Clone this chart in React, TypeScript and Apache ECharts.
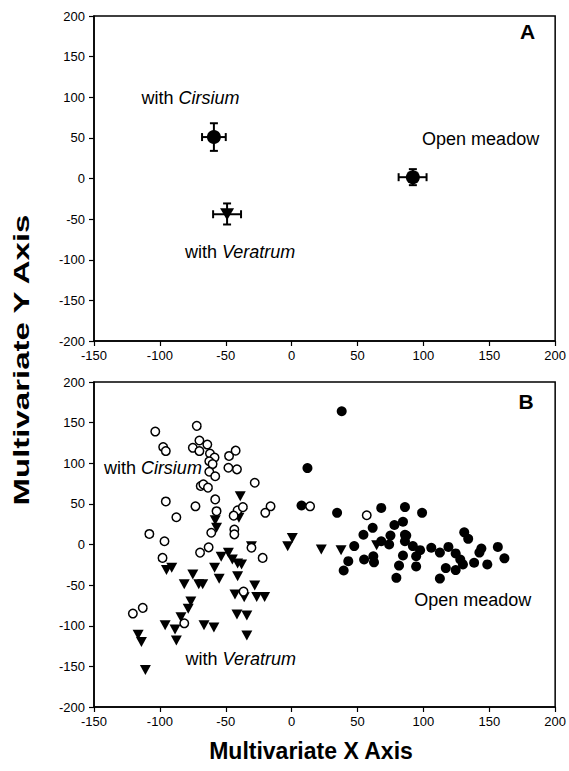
import React, { useEffect, useRef } from "react";
import * as echarts from "echarts";

// ---------- data ----------
const xTicks = [-150, 200, 50]; // min, max, interval
const yTicks = [-200, 200, 50];

// Panel A: group means [x, y, xLow, xHigh, yLow, yHigh]
const meanCirsium = [-59, 51, -68, -50, 34, 68];
const meanVeratrum = [-49, -44, -59.6, -38.4, -56.6, -30.7];
const meanMeadow = [92, 1.6, 81.2, 102.4, -8.2, 11.5];

// Panel B: individual plots
const meadowPoints = [
  [38, 164], [12, 94], [7.5, 48], [34.5, 39], [68, 45], [86, 46], [99, 39], [84.5, 28],
  [78, 24], [61.5, 20.5], [54.5, 12], [75, 11], [87, 11], [131, 15], [134, 7], [68, 4],
  [86, 4], [47.5, -2], [74, 0], [92, -2], [97.5, -7], [106, -4], [119, -3], [144, -5],
  [156.5, -3], [84.5, -13.5], [94.5, -14.5], [112.5, -10], [124.5, -11], [142.5, -10],
  [161.5, -17], [43, -20.5], [55, -18.5], [62.5, -22], [62, -14.5], [81.5, -26],
  [94.5, -27], [117, -29], [124.5, -31.5], [130, -24.5], [138.5, -22.5], [148.5, -24.5],
  [128, -18.5], [39.5, -32], [79.5, -41], [112.5, -42], [86, 12],
];
const cirsiumPoints = [
  [-103.5, 139], [-72, 146], [-97.5, 120], [-95.5, 115], [-70, 128], [-64, 123], [-75, 119],
  [-70, 115], [-62, 112], [-58.5, 107], [-62.5, 102.5], [-60, 99], [-62.5, 89.5], [-58, 84],
  [-47.5, 109], [-42.5, 115.5], [-48, 94.5], [-41.5, 92.5], [-69, 72], [-67, 74],
  [-63.5, 70], [-28, 76], [-95.5, 53], [-73, 47], [-58, 55.5], [-87.5, 33.5], [-57, 41],
  [-41, 42], [-37, 46], [-44, 35.5], [-16, 47], [-20, 39], [-108, 13], [-96.5, 4],
  [-61, 14.5], [-43.5, 18.5], [-43.5, 12.5], [-63, -3.5], [-69.5, -10], [-30.5, -4],
  [-22, -16.5], [-98, -16.5], [-36.5, -58], [-120.5, -85], [-113, -78], [-81.5, -97],
  [14, 47], [57, 36],
];
const veratrumPoints = [
  [-39, 59.5], [-58, 30], [-40, 33], [-57, 20.5], [0.5, 8], [-3, -2], [-30.5, -2],
  [-48, -10], [-45, -18.5], [-53.5, -15], [-41, -23.5], [-38, -24.5], [-95, -31.5],
  [-91, -28.5], [-58.5, -28.5], [-55, -42], [-75, -37], [-70.5, -49], [-67.5, -49],
  [-81.5, -49], [-41, -39], [-28, -50.5], [-43, -61.5], [-36, -65], [-26.5, -64.5],
  [-20.5, -64.5], [-76.5, -70], [-78.5, -79], [-41.5, -86], [-34, -87.5], [-84, -89.5],
  [-96, -99.5], [-88.5, -104.5], [-66.5, -99.5], [-59, -102], [-87.5, -118],
  [-116.5, -111], [-114, -120], [-34, -112], [-111, -154.5], [22.5, -6], [37.5, -7],
  [64.5, -1],
];

// Annotations: [x, y, text]
const labelsA = [
  [-114, 99, "with {i|Cirsium}"],
  [99, 49, "Open meadow"],
  [-81, -91, "with {i|Veratrum}"],
];
const labelsB = [
  [-142.5, 94.5, "with {i|Cirsium}"],
  [93, -67.7, "Open meadow"],
  [-80.5, -140.7, "with {i|Veratrum}"],
];
const panelLetters = [
  [179, 181, "A"],
  [178, 176, "B"],
];

const FONT = "'Liberation Sans', Arial, Helvetica, sans-serif";
const TRI = "path://M0,0 L10,0 L5,9 Z";

function axesFor(gridIndex: number) {
  const common = {
    gridIndex,
    type: "value" as const,
    axisLine: { show: true, onZero: false, lineStyle: { color: "#000", width: 1.5 } },
    axisTick: { show: true, inside: false, length: 5, lineStyle: { color: "#000", width: 1.2 } },
    splitLine: { show: false },
  };
  return {
    x: {
      ...common,
      min: xTicks[0],
      max: xTicks[1],
      interval: xTicks[2],
      axisLabel: { color: "#000", fontSize: 13, fontFamily: FONT, margin: 8, showMinLabel: true, showMaxLabel: true },
    },
    y: {
      ...common,
      min: yTicks[0],
      max: yTicks[1],
      interval: yTicks[2],
      axisLabel: { color: "#000", fontSize: 13, fontFamily: FONT, margin: 9, showMinLabel: true, showMaxLabel: true },
    },
  };
}

function labelSeries(items: any[], idx: number) {
  return {
    type: "scatter",
    xAxisIndex: idx,
    yAxisIndex: idx,
    symbolSize: 0,
    silent: true,
    z: 5,
    itemStyle: { opacity: 1 },
    data: items.map((d) => ({ value: [d[0], d[1]], name: d[2] })),
    label: {
      show: true,
      position: "right",
      distance: 0,
      color: "#000",
      fontSize: 18,
      fontFamily: FONT,
      formatter: (p: any) => p.name,
      rich: { i: { fontStyle: "italic", fontSize: 18, fontFamily: FONT, color: "#000" } },
    },
  };
}

function errorRender(params: any, api: any) {
  const x = api.value(0), y = api.value(1);
  const xl = api.coord([api.value(2), y]);
  const xh = api.coord([api.value(3), y]);
  const yl = api.coord([x, api.value(4)]);
  const yh = api.coord([x, api.value(5)]);
  const c = 4;
  const st = { stroke: "#000", lineWidth: 2 };
  return {
    type: "group",
    children: [
      { type: "line", shape: { x1: xl[0], y1: xl[1], x2: xh[0], y2: xh[1] }, style: st },
      { type: "line", shape: { x1: xl[0], y1: xl[1] - c, x2: xl[0], y2: xl[1] + c }, style: st },
      { type: "line", shape: { x1: xh[0], y1: xh[1] - c, x2: xh[0], y2: xh[1] + c }, style: st },
      { type: "line", shape: { x1: yl[0], y1: yl[1], x2: yh[0], y2: yh[1] }, style: st },
      { type: "line", shape: { x1: yl[0] - c, y1: yl[1], x2: yl[0] + c, y2: yl[1] }, style: st },
      { type: "line", shape: { x1: yh[0] - c, y1: yh[1], x2: yh[0] + c, y2: yh[1] }, style: st },
    ],
  };
}

export default function App() {
  const ref = useRef<HTMLDivElement>(null);
  useEffect(() => {
    document.body.style.margin = "0";
    const chart = echarts.init(ref.current!, undefined, { renderer: "svg" });
    const a = axesFor(0);
    const b = axesFor(1);
    const letterLabel = { show: true, position: "inside", formatter: (p: any) => p.name, color: "#000", fontSize: 21, fontWeight: "bold", fontFamily: FONT };
    chart.setOption({
      animation: false,
      backgroundColor: "#fff",
      grid: [
        { left: 94, right: 9, top: 16, height: 325, show: true, borderColor: "#000", borderWidth: 1.5, backgroundColor: "transparent" },
        { left: 94, right: 9, top: 382, height: 325, show: true, borderColor: "#000", borderWidth: 1.5, backgroundColor: "transparent" },
      ],
      xAxis: [a.x, b.x],
      yAxis: [a.y, b.y],
      series: [
        {
          type: "custom",
          xAxisIndex: 0,
          yAxisIndex: 0,
          renderItem: errorRender,
          data: [meanCirsium, meanVeratrum, meanMeadow],
          z: 2,
          silent: true,
        },
        {
          type: "scatter",
          xAxisIndex: 0,
          yAxisIndex: 0,
          symbol: "circle",
          symbolSize: 14,
          itemStyle: { color: "#000", opacity: 1 },
          data: [[meanCirsium[0], meanCirsium[1]], [meanMeadow[0], meanMeadow[1]]],
          z: 3,
        },
        {
          type: "scatter",
          xAxisIndex: 0,
          yAxisIndex: 0,
          symbol: TRI,
          symbolSize: [14, 12],
          itemStyle: { color: "#000", opacity: 1 },
          data: [[meanVeratrum[0], meanVeratrum[1]]],
          z: 3,
        },
        {
          type: "scatter",
          xAxisIndex: 1,
          yAxisIndex: 1,
          symbol: TRI,
          symbolSize: [11, 10],
          itemStyle: { color: "#000", opacity: 1 },
          data: veratrumPoints,
          z: 3,
        },
        {
          type: "scatter",
          xAxisIndex: 1,
          yAxisIndex: 1,
          symbol: "circle",
          symbolSize: 10,
          itemStyle: { color: "#000", opacity: 1 },
          data: meadowPoints,
          z: 3,
        },
        {
          type: "scatter",
          xAxisIndex: 1,
          yAxisIndex: 1,
          symbol: "circle",
          symbolSize: 8.5,
          itemStyle: { color: "#fff", borderColor: "#000", borderWidth: 1.5, opacity: 1 },
          data: cirsiumPoints,
          z: 4,
        },
        labelSeries(labelsA, 0),
        labelSeries(labelsB, 1),
        {
          type: "scatter",
          xAxisIndex: 0,
          yAxisIndex: 0,
          symbolSize: 0,
          silent: true,
          itemStyle: { opacity: 1 },
          data: [{ value: [panelLetters[0][0], panelLetters[0][1]], name: panelLetters[0][2] }],
          label: letterLabel,
        },
        {
          type: "scatter",
          xAxisIndex: 1,
          yAxisIndex: 1,
          symbolSize: 0,
          silent: true,
          itemStyle: { opacity: 1 },
          data: [{ value: [panelLetters[1][0], panelLetters[1][1]], name: panelLetters[1][2] }],
          label: letterLabel,
        },
      ],
      graphic: [
        {
          type: "text",
          x: 22,
          y: 360,
          rotation: Math.PI / 2,
          scaleX: 1.5,
          style: {
            text: "Multivariate Y Axis",
            font: `bold 22px ${FONT}`,
            fill: "#000",
            align: "center",
            verticalAlign: "middle",
          },
        },
        {
          type: "text",
          x: 311,
          y: 751,
          style: {
            text: "Multivariate X Axis",
            font: `bold 23px ${FONT}`,
            fill: "#000",
            align: "center",
            verticalAlign: "middle",
          },
        },
      ],
    });
    return () => chart.dispose();
  }, []);
  return <div ref={ref} style={{ width: 569, height: 771 }} />;
}
